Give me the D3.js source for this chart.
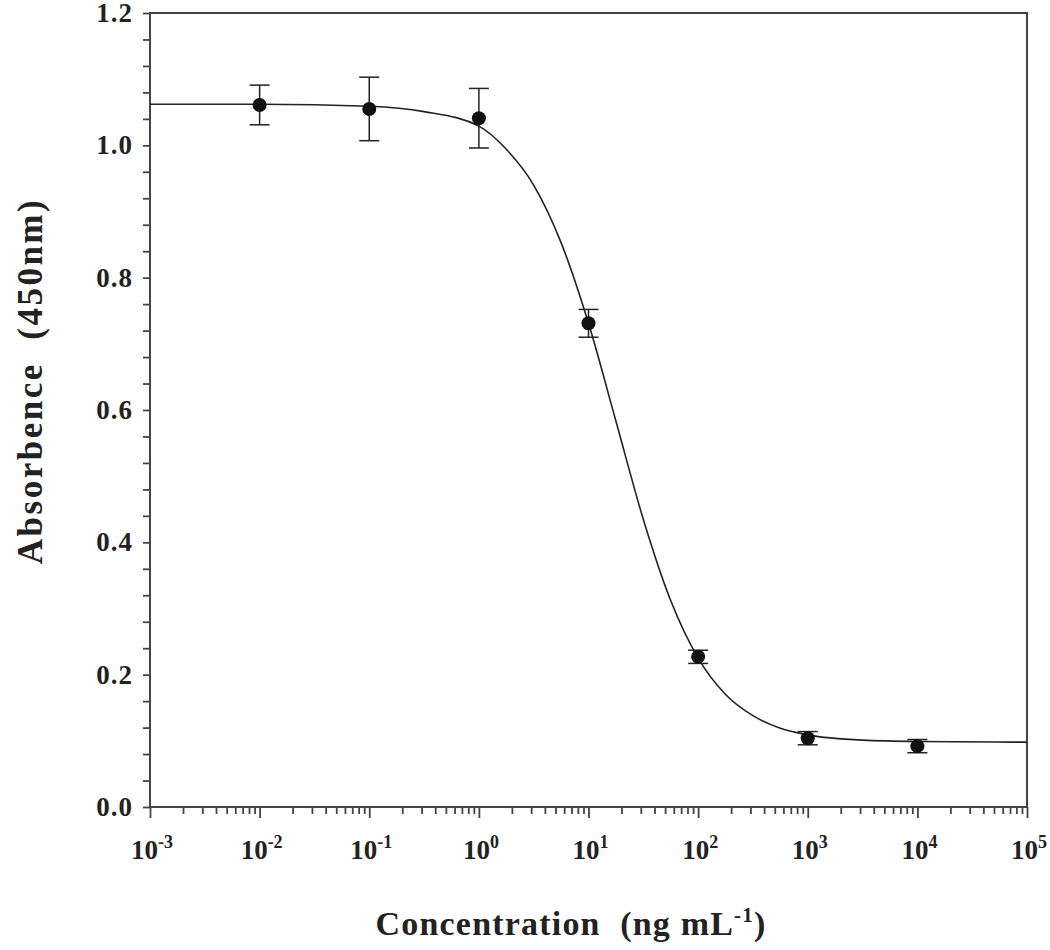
<!DOCTYPE html>
<html>
<head>
<meta charset="utf-8">
<script src="https://cdn.jsdelivr.net/npm/d3@7"></script>
<style>
  body { margin: 0; background: #fff; }
  svg text { font-family: "Liberation Serif", "Times New Roman", serif; font-weight: bold; fill: #222; white-space: pre; }
</style>
</head>
<body>
<script>
// measured points (mean +/- error)
var concentrations = [0.01, 0.1, 1, 10, 100, 1000, 10000];
var absorbance = [1.061, 1.055, 1.041, 0.731, 0.227, 0.104, 0.092];
var errors = [0.030, 0.048, 0.045, 0.021, 0.010, 0.010, 0.010];

// fitted curve
var fitConc = [0.001, 0.01, 0.1, 0.316, 1, 1.78, 3.16, 5.62, 10, 17.8, 31.6, 56.2, 100, 178, 316, 562, 1000, 3162, 10000, 100000];
var fitAbs = [1.062, 1.062, 1.059, 1.051, 1.029, 0.994, 0.940, 0.853, 0.731, 0.583, 0.435, 0.312, 0.225, 0.170, 0.138, 0.119, 0.109, 0.101, 0.099, 0.098];

var xExponents = [-3, -2, -1, 0, 1, 2, 3, 4, 5];
var yTickLabels = [0.0, 0.2, 0.4, 0.6, 0.8, 1.0, 1.2];

var w = 1050, h = 950;
var plotLeft = 150, plotRight = 1027, plotTop = 13, plotBottom = 807;

var svg = d3.select("body").append("svg")
    .attr("width", w)
    .attr("height", h);

var x = d3.scaleLog().domain([1e-3, 1e5]).range([plotLeft, plotRight]);
var y = d3.scaleLinear().domain([0, 1.2]).range([plotBottom, plotTop]);

// minor x ticks 2..9 in every decade
var minorX = [];
xExponents.slice(0, -1).forEach(function(e) {
  for (var k = 2; k <= 9; k++) minorX.push(k * Math.pow(10, e));
});

svg.append("g")
    .attr("transform", "translate(0," + plotBottom + ")")
    .call(d3.axisBottom(x).tickValues(minorX).tickSize(7).tickFormat(""))
    .call(function(g) { g.select(".domain").remove(); });

var xMajor = svg.append("g")
    .attr("transform", "translate(0," + plotBottom + ")")
    .call(d3.axisBottom(x)
      .tickValues(xExponents.map(function(e) { return Math.pow(10, e); }))
      .tickSize(11)
      .tickFormat(""));
xMajor.select(".domain").remove();

// x tick labels with superscript exponent
svg.selectAll("text.xlab")
   .data(xExponents)
   .enter()
   .append("text")
   .attr("class", "xlab")
   .attr("x", function(d) { return x(Math.pow(10, d)) + 2; })
   .attr("y", 859)
   .attr("text-anchor", "middle")
   .attr("font-size", "27px")
   .each(function(d) {
     var t = d3.select(this);
     t.append("tspan").text("10");
     t.append("tspan")
      .attr("font-size", "18px")
      .attr("dy", "-11")
      .text(d < 0 ? "-" + (-d) : String(d));
   });

// y axis: minor every 0.04, labels on the 0.2 steps
var yTicks = d3.range(0, 31).map(function(i) { return +(i * 0.04).toFixed(2); });
var yAxis = svg.append("g")
    .attr("transform", "translate(" + plotLeft + ",0)")
    .call(d3.axisLeft(y)
      .tickValues(yTicks)
      .tickSize(7)
      .tickPadding(10)
      .tickFormat(function(d) {
        return yTickLabels.some(function(v) { return Math.abs(v - d) < 1e-6; }) ? d3.format(".1f")(d) : "";
      }));
yAxis.select(".domain").remove();
yAxis.selectAll("text")
     .attr("font-size", "27px")
     .attr("letter-spacing", "1px")
     .attr("font-family", "Liberation Serif, serif")
     .attr("font-weight", "bold")
     .attr("fill", "#222");

svg.selectAll(".tick line").attr("stroke", "#444").attr("stroke-width", 1.8);

// frame
svg.append("rect")
   .attr("x", plotLeft)
   .attr("y", plotTop)
   .attr("width", plotRight - plotLeft)
   .attr("height", plotBottom - plotTop)
   .attr("fill", "none")
   .attr("stroke", "#444")
   .attr("stroke-width", 2);

// fitted curve
var fit = fitConc.map(function(c, i) { return [c, fitAbs[i]]; });
svg.append("path")
   .datum(fit)
   .attr("fill", "none")
   .attr("stroke", "#222")
   .attr("stroke-width", 1.6)
   .attr("d", d3.line()
     .x(function(d) { return x(d[0]); })
     .y(function(d) { return y(d[1]); })
     .curve(d3.curveMonotoneX));

// error bars
var pts = concentrations.map(function(c, i) { return { c: c, a: absorbance[i], e: errors[i] }; });
var eb = svg.selectAll("g.err")
   .data(pts)
   .enter()
   .append("g")
   .attr("class", "err")
   .attr("stroke", "#222")
   .attr("stroke-width", 1.5);
eb.append("line")
  .attr("x1", function(d) { return x(d.c); })
  .attr("x2", function(d) { return x(d.c); })
  .attr("y1", function(d) { return y(d.a + d.e); })
  .attr("y2", function(d) { return y(d.a - d.e); });
eb.append("line")
  .attr("x1", function(d) { return x(d.c) - 10; })
  .attr("x2", function(d) { return x(d.c) + 10; })
  .attr("y1", function(d) { return y(d.a + d.e); })
  .attr("y2", function(d) { return y(d.a + d.e); });
eb.append("line")
  .attr("x1", function(d) { return x(d.c) - 10; })
  .attr("x2", function(d) { return x(d.c) + 10; })
  .attr("y1", function(d) { return y(d.a - d.e); })
  .attr("y2", function(d) { return y(d.a - d.e); });

svg.selectAll("circle")
   .data(pts)
   .enter()
   .append("circle")
   .attr("cx", function(d) { return x(d.c); })
   .attr("cy", function(d) { return y(d.a); })
   .attr("r", 7)
   .attr("fill", "#111");

// axis titles
var xt = svg.append("text")
   .attr("x", 571)
   .attr("y", 935)
   .attr("text-anchor", "middle")
   .attr("font-size", "34px")
   .attr("letter-spacing", "1.2px");
xt.append("tspan").text("Concentration  (ng mL");
xt.append("tspan").attr("font-size", "21px").attr("dy", "-13").text("-1");
xt.append("tspan").attr("dy", "13").text(")");

svg.append("text")
   .attr("transform", "translate(42,381) rotate(-90)")
   .attr("text-anchor", "middle")
   .attr("font-size", "35px")
   .attr("letter-spacing", "2.5px")
   .text("Absorbence  (450nm)");
</script>
</body>
</html>
